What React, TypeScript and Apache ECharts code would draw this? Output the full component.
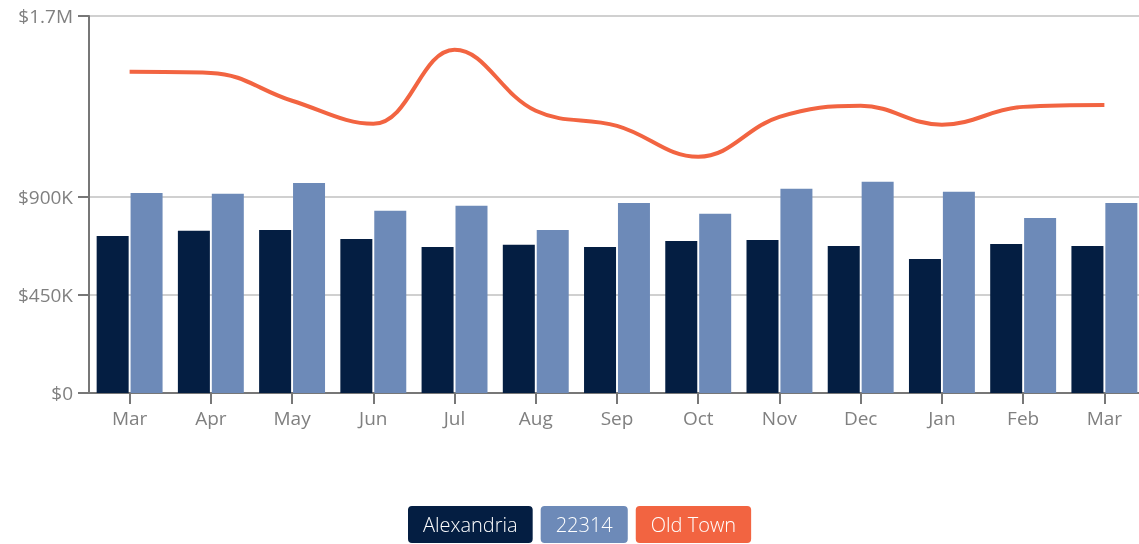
import React, { useEffect, useRef } from "react";
import * as echarts from "echarts";

const categories = ["Mar", "Apr", "May", "Jun", "Jul", "Aug", "Sep", "Oct", "Nov", "Dec", "Jan", "Feb", "Mar"];
const alexandria = [721000, 744000, 748000, 707000, 670000, 680000, 670000, 698000, 702000, 675000, 615000, 684000, 675000];
const zip22314 = [918000, 914000, 964000, 836000, 859000, 748000, 872000, 822000, 937000, 969000, 923000, 803000, 872000];
const oldTown = [1474000, 1469000, 1341000, 1235000, 1575000, 1295000, 1226000, 1084000, 1267000, 1318000, 1231000, 1313000, 1322000];
const yTicks = [0, 450000, 900000, 1730000];

const NAVY = "#041e42";
const BLUE = "#6d8ab8";
const ORANGE = "#f26441";
const FONT = "'Open Sans', Lato, sans-serif";

function fmt(v: number): string {
  if (v === 0) return "$0";
  if (v >= 1000000) return "$" + (v / 1000000).toFixed(1) + "M";
  return "$" + Math.round(v / 1000) + "K";
}

export default function App() {
  const ref = useRef<HTMLDivElement>(null);
  useEffect(() => {
    if (!ref.current) return;
    const chart = echarts.init(ref.current, null, { renderer: "svg" });
    const legendItem = (name: string, bg: string) => ({
      name,
      textStyle: {
        color: "#ffffff",
        backgroundColor: bg,
        borderRadius: 4,
        padding: [9, 15, 8, 15],
        fontSize: 20,
        lineHeight: 20,
        fontFamily: FONT,
        fontWeight: 300,
      },
    });
    chart.setOption({
      animation: false,
      textStyle: { fontFamily: FONT },
      grid: { left: 89, top: 16, width: 1056, bottom: 151, containLabel: false, outerBoundsMode: "none" },
      legend: {
        top: 501,
        left: 398,
        icon: "rect",
        itemWidth: 0,
        itemHeight: 0,
        itemGap: 3,
        selectedMode: false,
        data: [legendItem("Alexandria", NAVY), legendItem("22314", BLUE), legendItem("Old Town", ORANGE)],
      },
      xAxis: {
        type: "category",
        data: categories,
        boundaryGap: true,
        axisLine: { show: true, lineStyle: { color: "#777", width: 2 } },
        axisTick: { show: true, alignWithLabel: true, length: 11, lineStyle: { color: "#777", width: 2 } },
        axisLabel: { color: "#808080", fontSize: 19, margin: 15, fontFamily: FONT, fontWeight: 400 },
        splitLine: { show: false },
      },
      yAxis: {
        type: "value",
        min: 0,
        max: 1730000,
        axisLine: { show: true, lineStyle: { color: "#777", width: 2 } },
        axisTick: { show: true, length: 11, customValues: yTicks, lineStyle: { color: "#777", width: 2 } },
        axisLabel: {
          customValues: yTicks,
          color: "#808080",
          fontSize: 19,
          margin: 16,
          fontFamily: FONT,
          fontWeight: 400,
          formatter: (v: number) => fmt(v),
        },
        splitLine: { show: true, lineStyle: { color: "#d0d0d0", width: 2 } },
      },
      series: [
        {
          name: "Alexandria",
          type: "bar",
          data: alexandria,
          barWidth: 32,
          barGap: "6%",
          itemStyle: { color: NAVY },
        },
        {
          name: "22314",
          type: "bar",
          data: zip22314,
          barWidth: 32,
          itemStyle: { color: BLUE },
        },
        {
          name: "Old Town",
          type: "line",
          data: oldTown,
          smooth: 0.4,
          symbol: "none",
          itemStyle: { color: ORANGE },
          lineStyle: { color: ORANGE, width: 4 },
        },
      ],
    });
    return () => chart.dispose();
  }, []);
  return <div ref={ref} style={{ position: "fixed", left: 0, top: 0, width: 1139, height: 544 }} />;
}
